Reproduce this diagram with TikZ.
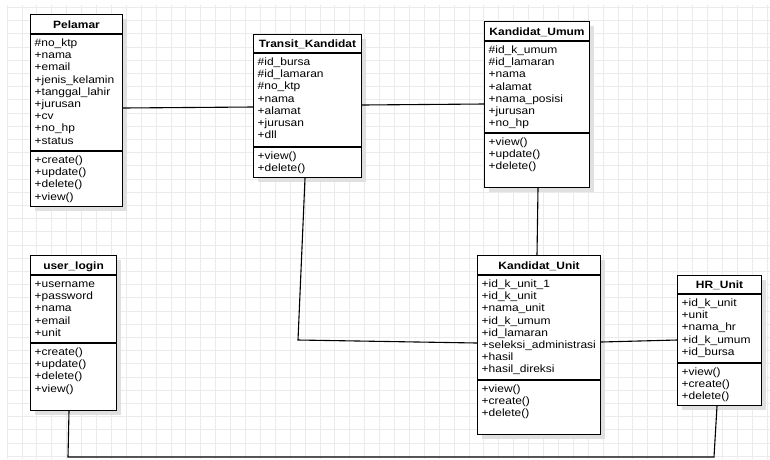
\documentclass[tikz,border=0pt]{standalone}
\usepackage{fontspec}
\setmainfont{Liberation Sans}[FakeStretch=1.13]
\usetikzlibrary{shadows}
\newcommand\classframe[6]{%
  \node[classbox, minimum width=#3pt, minimum height=#4pt] (#1) at #2 {};
  \draw[sepline] ([yshift=-#5pt]#1.north west) -- ([yshift=-#5pt]#1.north east);
  \draw[sepline] ([yshift=-#6pt]#1.north west) -- ([yshift=-#6pt]#1.north east);
}
\begin{document}
\begin{tikzpicture}[x=1pt,y=-1pt,
  gridline/.style={draw=black!8, line width=0.8pt},
  classbox/.style={draw, line width=1.1pt, fill=white, inner sep=0pt, anchor=north west,
    drop shadow={shadow xshift=4pt, shadow yshift=-4pt, fill=black!12, opacity=1}},
  sepline/.style={line width=1.1pt},
  conn/.style={line width=1.1pt},
  title/.style={font=\fontsize{10.6}{12.2}\selectfont\bfseries, inner sep=0pt, anchor=base},
  members/.style={font=\fontsize{10.6}{12.2}\selectfont, inner sep=0pt, anchor=north west}]
\useasboundingbox[fill=white] (0,0) rectangle (770,459);
\foreach \i in {0,...,51} \draw[gridline] ({7+14.9*\i},5) -- ({7+14.9*\i},459);
\foreach \j in {0,...,34} \draw[gridline] (7,{7.3+13.2*\j}) -- (770,{7.3+13.2*\j});

% Pelamar
\classframe{pel}{(30,14)}{92}{192}{20}{137}
\node[title] (pelt) at ([yshift=-14pt]pel.north) {Pelamar};
\node[members] (pela) at ([xshift=4.5pt,yshift=-23.8pt]pel.north west) {\begin{tabular}{@{}l@{}}\#no\_ktp\\+nama\\+email\\+jenis\_kelamin\\+tanggal\_lahir\\+jurusan\\+cv\\+no\_hp\\+status\end{tabular}};
\node[members] (pelm) at ([xshift=4.5pt,yshift=-140.8pt]pel.north west) {\begin{tabular}{@{}l@{}}+create()\\+update()\\+delete()\\+view()\end{tabular}};

% Transit_Kandidat
\classframe{tk}{(253,34)}{108}{143}{19}{113}
\node[title] (tkt) at ([yshift=-13.5pt]tk.north) {Transit\_Kandidat};
\node[members] (tka) at ([xshift=4.5pt,yshift=-22.8pt]tk.north west) {\begin{tabular}{@{}l@{}}\#id\_bursa\\\#id\_lamaran\\\#no\_ktp\\+nama\\+alamat\\+jurusan\\+dll\end{tabular}};
\node[members] (tkm) at ([xshift=4.5pt,yshift=-116.8pt]tk.north west) {\begin{tabular}{@{}l@{}}+view()\\+delete()\end{tabular}};

% Kandidat_Umum
\classframe{ku}{(484,21)}{105}{166}{20}{112}
\node[title] (kut) at ([yshift=-14pt]ku.north) {Kandidat\_Umum};
\node[members] (kua) at ([xshift=4.5pt,yshift=-23.8pt]ku.north west) {\begin{tabular}{@{}l@{}}\#id\_k\_umum\\\#id\_lamaran\\+nama\\+alamat\\+nama\_posisi\\+jurusan\\+no\_hp\end{tabular}};
\node[members] (kum) at ([xshift=4.5pt,yshift=-115.8pt]ku.north west) {\begin{tabular}{@{}l@{}}+view()\\+update()\\+delete()\end{tabular}};

% user_login
\classframe{ul}{(30,255)}{86}{155}{20}{88}
\node[title] (ult) at ([yshift=-14pt]ul.north) {user\_login};
\node[members] (ula) at ([xshift=4.5pt,yshift=-23.8pt]ul.north west) {\begin{tabular}{@{}l@{}}+username\\+password\\+nama\\+email\\+unit\end{tabular}};
\node[members] (ulm) at ([xshift=4.5pt,yshift=-91.8pt]ul.north west) {\begin{tabular}{@{}l@{}}+create()\\+update()\\+delete()\\+view()\end{tabular}};

% Kandidat_Unit
\classframe{kun}{(477,255)}{123}{179}{20}{125}
\node[title] (kunt) at ([yshift=-14pt]kun.north) {Kandidat\_Unit};
\node[members] (kuna) at ([xshift=4.5pt,yshift=-23.8pt]kun.north west) {\begin{tabular}{@{}l@{}}+id\_k\_unit\_1\\+id\_k\_unit\\+nama\_unit\\+id\_k\_umum\\+id\_lamaran\\+seleksi\_administrasi\\+hasil\\+hasil\_direksi\end{tabular}};
\node[members] (kunm) at ([xshift=4.5pt,yshift=-128.8pt]kun.north west) {\begin{tabular}{@{}l@{}}+view()\\+create()\\+delete()\end{tabular}};

% HR_Unit
\classframe{hr}{(677,275)}{84}{130}{19}{88}
\node[title] (hrt) at ([yshift=-13.5pt]hr.north) {HR\_Unit};
\node[members] (hra) at ([xshift=4.5pt,yshift=-22.8pt]hr.north west) {\begin{tabular}{@{}l@{}}+id\_k\_unit\\+unit\\+nama\_hr\\+id\_k\_umum\\+id\_bursa\end{tabular}};
\node[members] (hrm) at ([xshift=4.5pt,yshift=-91.8pt]hr.north west) {\begin{tabular}{@{}l@{}}+view()\\+create()\\+delete()\end{tabular}};

% connectors
\coordinate (b1) at (298,340);
\coordinate (b2) at (68,457);
\coordinate (b3) at (714,457);
\draw[conn] ([yshift=-94pt]pel.north east) -- ([yshift=-73pt]tk.north west);
\draw[conn] ([yshift=-71pt]tk.north east) -- ([yshift=-83pt]ku.north west);
\draw[conn] ([xshift=54pt]ku.south west) -- ([xshift=60pt]kun.north west);
\draw[conn] ([xshift=52pt]tk.south west) -- (b1) -- ([yshift=-88pt]kun.north west);
\draw[conn] ([yshift=-87pt]kun.north east) -- ([yshift=-65pt]hr.north west);
\draw[conn] ([xshift=39pt]ul.south west) -- (b2) -- (b3) -- ([xshift=40pt]hr.south west);
\end{tikzpicture}
\end{document}
